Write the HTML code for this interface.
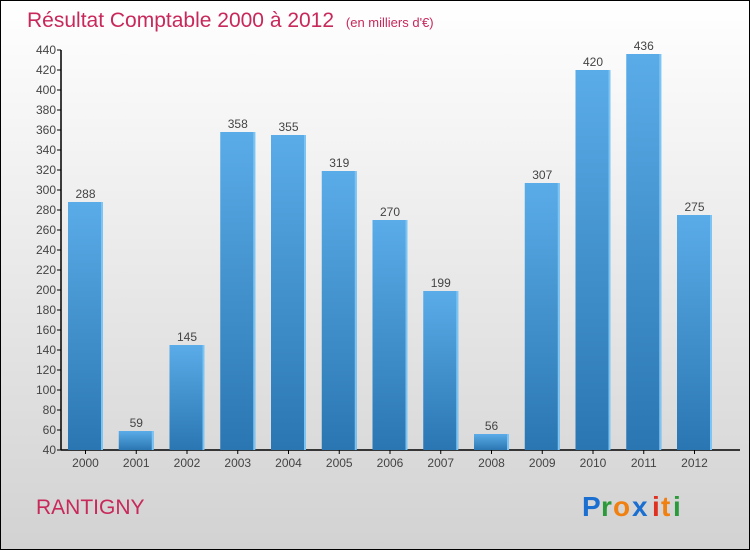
<!DOCTYPE html>
<html><head><meta charset="utf-8"><style>
body{margin:0;width:750px;height:550px;overflow:hidden}
svg{display:block;font-family:"Liberation Sans",sans-serif}
</style></head><body>
<svg width="750" height="550">
<defs>
<linearGradient id="bg" x1="0" y1="0" x2="0" y2="1"><stop offset="0" stop-color="#ffffff"/><stop offset="1" stop-color="#d2d2d2"/></linearGradient>
<linearGradient id="bar" x1="0" y1="0" x2="0" y2="1"><stop offset="0" stop-color="#5aace8"/><stop offset="1" stop-color="#2a76b2"/></linearGradient>
</defs>
<rect x="0.5" y="0.5" width="749" height="549" fill="url(#bg)" stroke="#000"/>
<text x="27" y="27" font-size="21" fill="#c8285a">Résultat Comptable 2000 à 2012 <tspan font-size="13" dx="6">(en milliers d'€)</tspan></text>
<g id="axes"></g>
<g id="bars"></g>
<text x="36" y="514" font-size="21" fill="#c8285a">RANTIGNY</text>
<g font-size="28" font-weight="bold">
<text x="582" y="516" fill="#1a6fd0">P</text><text x="601" y="516" fill="#2a9a3a">r</text><text x="613" y="516" fill="#f08010">o</text><text x="632" y="516" fill="#1a6fd0">x</text><text x="652" y="516" fill="#e03020">i</text><text x="661" y="516" fill="#f08010">t</text><text x="673" y="516" fill="#2a9a3a">i</text>
</g>
</svg>
<script>
const years=["2000","2001","2002","2003","2004","2005","2006","2007","2008","2009","2010","2011","2012"];
const values=[288,59,145,358,355,319,270,199,56,307,420,436,275];
const ticks=[40,60,80,100,120,140,160,180,200,220,240,260,280,300,320,340,360,380,400,420,440];
const NS="http://www.w3.org/2000/svg";
const y=v=>450-(v-40);
const x=i=>85.5+i*50.75;
function mk(t,a,p){const e=document.createElementNS(NS,t);for(const k in a)e.setAttribute(k,a[k]);p.appendChild(e);return e;}
const ax=document.getElementById('axes'),bg=document.getElementById('bars');
const yl=mk('line',{x1:61,y1:50,x2:61,y2:450,stroke:'#000','stroke-width':1.5},ax);


const xl=mk('line',{x1:61,y1:450,x2:740,y2:450,stroke:'#000','stroke-width':1.5},ax);


ticks.forEach(t=>{
 mk('line',{x1:57,x2:61,y1:y(t),y2:y(t),stroke:'#000'},ax);
 const tx=mk('text',{x:56,y:y(t)+4,'text-anchor':'end','font-size':12,fill:'#444'},ax);tx.textContent=t;
 
 
});
years.forEach((yr,i)=>{
 mk('line',{x1:x(i),x2:x(i),y1:450,y2:454,stroke:'#000'},ax);
 const tl=mk('text',{x:x(i),y:467,'text-anchor':'middle','font-size':12,fill:'#444'},ax);tl.textContent=yr;
 
 
 const v=values[i];
 const r=mk('rect',{x:x(i)-17.5,y:y(v),width:35,height:450-y(v),fill:'url(#bar)'},bg);
 
 
 mk('rect',{x:x(i)+15.5,y:y(v),width:2,height:450-y(v),fill:'#7cc4f4'},bg);
 const lb=mk('text',{x:x(i),y:y(v)-4,'text-anchor':'middle','font-size':12,fill:'#444'},bg);lb.textContent=v;
 
 
});
</script>
</body></html>
